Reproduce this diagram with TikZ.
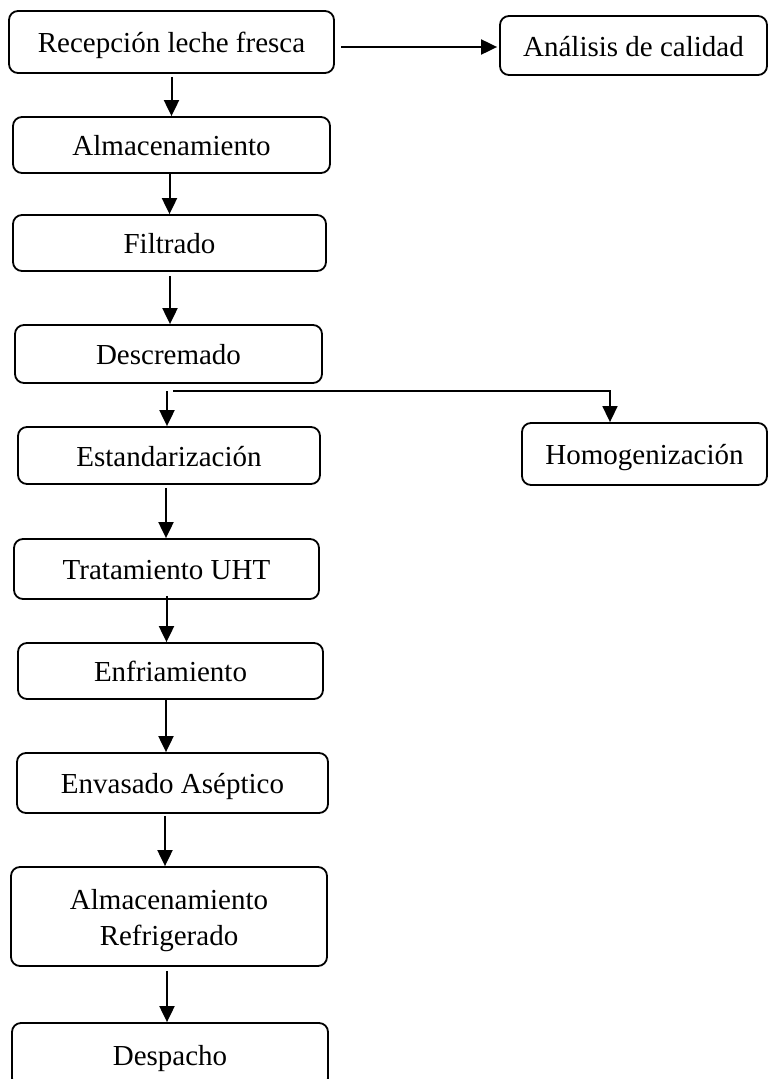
\documentclass[tikz,border=0pt]{standalone}
\usepackage{fontspec}
\setmainfont{Liberation Serif}
\usetikzlibrary{arrows.meta}
\begin{document}
\begin{tikzpicture}[x=1pt,y=-1pt,
  box/.style={draw, line width=1.8pt, rounded corners=9pt, inner sep=0pt, align=center,
    font=\fontsize{29}{36}\selectfont, text height=25pt, text depth=4pt},
  arr/.style={line width=2pt, -{Triangle[length=16pt,width=15pt]}},
  ln/.style={line width=1.6pt}]
\useasboundingbox (0,0) rectangle (768,1079);
\clip (0,0) rectangle (768,1079);
\node[box, minimum width=325pt, minimum height=62pt] (rec) at (171.5,42) {Recepción leche fresca};
\node[box, minimum width=267pt, minimum height=59pt] (ana) at (633.5,45.5) {Análisis de calidad};
\node[box, minimum width=317pt, minimum height=56pt] (alm) at (171.5,145) {Almacenamiento};
\node[box, minimum width=313pt, minimum height=56pt] (fil) at (169.5,243) {Filtrado};
\node[box, minimum width=307pt, minimum height=58pt] (des) at (168.5,354) {Descremado};
\node[box, minimum width=302pt, minimum height=57pt] (est) at (169,455.5) {Estandarización};
\node[box, minimum width=245pt, minimum height=62pt] (hom) at (644.5,454) {Homogenización};
\node[box, minimum width=305pt, minimum height=60pt] (uht) at (166.5,569) {Tratamiento UHT};
\node[box, minimum width=305pt, minimum height=56pt] (enf) at (170.5,671) {Enfriamiento};
\node[box, minimum width=311pt, minimum height=60pt] (env) at (172.5,783) {Envasado Aséptico};
\node[box, minimum width=316pt, minimum height=99pt, text height=, text depth=] (ref) at (169,916.5)
  {\raisebox{-3.5pt}[\height][\depth]{\begin{tabular}{@{}c@{}}Almacenamiento\\Refrigerado\end{tabular}}};
\node[box, minimum width=316pt, minimum height=64pt] (dsp) at (170,1055) {Despacho};

\coordinate (h1) at (341,47);
\draw[arr] (h1) -- ([xshift=-2pt]h1 -| ana.west);
\draw[arr, shorten <=3pt] (rec.south) -- (rec.south |- alm.north);
\draw[arr] ([xshift=-2pt]alm.south) -- ([xshift=-2pt]alm.south |- fil.north);
\draw[arr, shorten <=4pt] ([xshift=0.5pt]fil.south) -- ([xshift=0.5pt]fil.south |- des.north);

\coordinate (b1) at (167,391);
\coordinate (b2) at (610,391);
\draw[arr] (b1) -- (b1 |- est.north);
\draw[arr, line width=1.6pt] ([xshift=6pt]b1) -- (b2) -- (b2 |- hom.north);

\draw[arr, shorten <=3pt] ([xshift=-3pt]est.south) -- ([xshift=-3pt]est.south |- uht.north);
\draw[arr] ([yshift=4pt]uht.south) -- (uht.south |- enf.north);
\draw[arr] ([xshift=-4.5pt]enf.south) -- ([xshift=-4.5pt]enf.south |- env.north);
\draw[arr, shorten <=2pt] ([xshift=-7.5pt]env.south) -- ([xshift=-7.5pt]env.south |- ref.north);
\draw[arr, shorten <=4pt] ([xshift=-2pt]ref.south) -- ([xshift=-2pt]ref.south |- dsp.north);
\end{tikzpicture}
\end{document}
